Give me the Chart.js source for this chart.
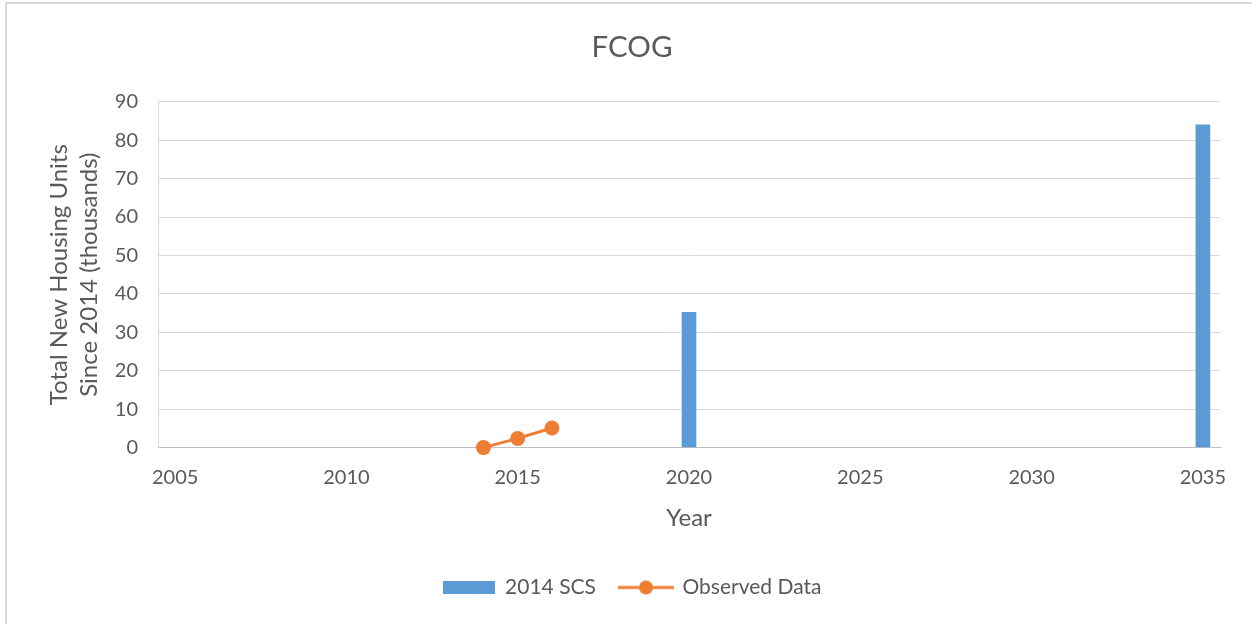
<!DOCTYPE html>
<html>
<head>
<meta charset="utf-8">
<script src="https://cdn.jsdelivr.net/npm/chart.js@4/dist/chart.umd.min.js"></script>
<style>
  html, body { margin: 0; padding: 0; background: #ffffff; }
  #wrap { position: relative; width: 1252px; height: 624px; overflow: hidden; }
  #frame { position: absolute; left: 5px; top: 2px; width: 1260px; height: 640px; border: 2px solid #d9d9d9; box-sizing: border-box; pointer-events: none; }
  canvas { position: absolute; left: 0; top: 0; }
</style>
</head>
<body>
<div id="wrap">
  <canvas id="c" width="1252" height="624"></canvas>
  <div id="frame"></div>
</div>
<script>
const years = ['2005','2006','2007','2008','2009','2010','2011','2012','2013','2014','2015','2016','2017','2018','2019','2020','2021','2022','2023','2024','2025','2026','2027','2028','2029','2030','2031','2032','2033','2034','2035'];
const tickYears = ['2005','2010','2015','2020','2025','2030','2035'];
const scsYears = ['2020','2035'];
const scsValues = [35.2, 84];
const observedYears = ['2014','2015','2016'];
const observedValues = [0, 2.4, 5.1];

const FONT = "Lato, 'Liberation Sans', sans-serif";
const TXT = '#595959';

const scsData = years.map(y => { const i = scsYears.indexOf(y); return i >= 0 ? scsValues[i] : null; });
const obsData = years.map(y => { const i = observedYears.indexOf(y); return i >= 0 ? observedValues[i] : null; });

function barIcon() {
  const c = document.createElement('canvas'); c.width = 52; c.height = 13;
  const g = c.getContext('2d'); g.fillStyle = '#5B9BD5'; g.fillRect(0, 0, 52, 13); return c;
}
function lineIcon() {
  const c = document.createElement('canvas'); c.width = 56; c.height = 16;
  const g = c.getContext('2d'); g.strokeStyle = '#ED7D31'; g.lineWidth = 3;
  g.beginPath(); g.moveTo(0, 8); g.lineTo(56, 8); g.stroke();
  g.fillStyle = '#ED7D31'; g.beginPath(); g.arc(28, 8, 7, 0, Math.PI * 2); g.fill(); return c;
}

new Chart(document.getElementById('c'), {
  data: {
    labels: years,
    datasets: [
      { type: 'line', label: 'Observed Data', data: obsData, borderColor: '#ED7D31', backgroundColor: '#ED7D31',
        borderWidth: 3, pointRadius: 7.5, pointHoverRadius: 7.5, pointBackgroundColor: '#ED7D31', pointBorderWidth: 0,
        spanGaps: false, clip: false, order: 0 },
      { type: 'bar', label: '2014 SCS', data: scsData, backgroundColor: '#5B9BD5', barThickness: 14, order: 1 }
    ]
  },
  options: {
    responsive: false,
    animation: false,
    layout: { padding: { left: 44, right: 32, top: 8, bottom: 16 } },
    plugins: {
      title: { display: true, text: 'FCOG', color: TXT, font: { family: FONT, size: 29.5, weight: 'normal', lineHeight: 1.2 }, padding: { top: 21.3, bottom: 37 } },
      legend: {
        position: 'bottom',
        labels: {
          usePointStyle: true, pointStyleWidth: 52, boxHeight: 13, color: TXT, font: { family: FONT, size: 21 }, padding: 24,
          generateLabels: (chart) => [
            { text: '2014 SCS', pointStyle: barIcon(), fillStyle: '#5B9BD5', strokeStyle: '#5B9BD5', lineWidth: 0, datasetIndex: 1, fontColor: TXT },
            { text: 'Observed Data', pointStyle: lineIcon(), fillStyle: '#ED7D31', strokeStyle: '#ED7D31', lineWidth: 0, datasetIndex: 0, fontColor: TXT }
          ]
        }
      },
      tooltip: { enabled: false }
    },
    scales: {
      x: {
        type: 'category',
        offset: true,
        grid: { display: false, drawTicks: false },
        border: { display: true, color: '#bfbfbf', width: 1 },
        ticks: {
          autoSkip: false, maxRotation: 0, color: TXT, font: { family: FONT, size: 20, lineHeight: 1.2 }, padding: 18,
          callback: function (v) { const l = this.getLabelForValue(v); return tickYears.includes(l) ? l : ''; }
        },
        title: { display: true, text: 'Year', color: TXT, font: { family: FONT, size: 24, lineHeight: 1.2 }, padding: { top: -3.4, bottom: 20 } }
      },
      y: {
        min: 0, max: 90,
        grid: { color: '#d9d9d9', lineWidth: 1, drawTicks: false },
        border: { display: true, color: '#d9d9d9', width: 1 },
        ticks: { stepSize: 10, color: TXT, font: { family: FONT, size: 20 }, padding: 20 },
        title: { display: true, text: ['Total New Housing Units', 'Since 2014 (thousands)'], color: TXT, font: { family: FONT, size: 24, lineHeight: 1.25 }, padding: 0 },
        afterFit: (s) => { s.width = 114; }
      }
    }
  }
});
</script>
</body>
</html>
